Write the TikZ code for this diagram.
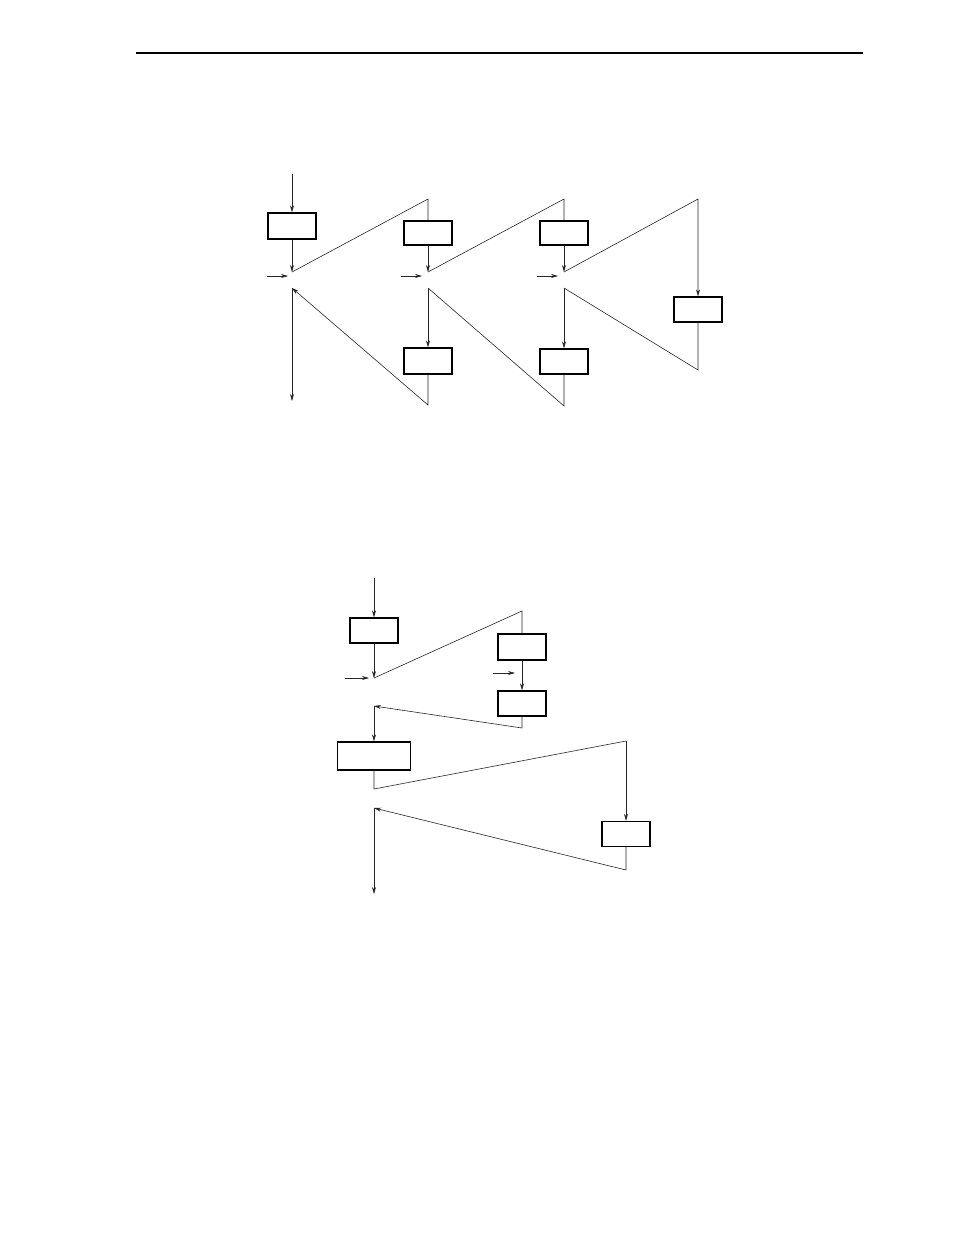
\documentclass[tikz,border=0pt]{standalone}
\usetikzlibrary{arrows.meta}
\begin{document}
\begin{tikzpicture}[x=1pt,y=-1pt,
  box/.style={draw,line width=1.3pt,rectangle,inner sep=0pt,minimum width=48pt,minimum height=25pt},
  conn/.style={line width=0.6pt,draw=black!85},
  arr/.style={conn,-{Stealth[length=7pt,width=4pt]}}]
\useasboundingbox (0,0) rectangle (954,1235);
\draw[line width=1.2pt] (136,53) -- (863,53);
% ---- top diagram ----
\node[box,minimum height=26pt] (b1) at (292,226) {};
\node[box,minimum height=24pt] (b2) at (428,233) {};
\node[box,minimum height=24pt] (b3) at (564,233) {};
\node[box] (b4) at (698,309.5) {};
\node[box] (b5) at (564,361.5) {};
\node[box,minimum height=26pt] (b6) at (428,361) {};
\coordinate (t1s) at (292,174);
\coordinate (j1) at (292,272);
\coordinate (j2) at (428,272);
\coordinate (j3) at (564,272);
\coordinate (p2) at (428,199);
\coordinate (p3) at (564,199);
\coordinate (p4) at (698,199);
\coordinate (q4) at (698,370);
\coordinate (u3) at (564,288);
\coordinate (q3) at (564,406);
\coordinate (u2) at (428,288);
\coordinate (q2) at (428,405);
\coordinate (u1) at (292,288);
\coordinate (e1) at (292,401);
\coordinate (a1s) at (267,276); \coordinate (a1e) at (288,276);
\coordinate (a2s) at (401,276); \coordinate (a2e) at (422,276);
\coordinate (a3s) at (537,276); \coordinate (a3e) at (558,276);
\draw[arr] (t1s) -- (b1.north);
\draw[arr] (b1.south) -- (j1);
\draw[conn] (j1) -- (p2) -- (b2.north);
\draw[arr] (b2.south) -- (j2);
\draw[conn] (j2) -- (p3) -- (b3.north);
\draw[arr] (b3.south) -- (j3);
\draw[arr] (j3) -- (p4) -- (b4.north);
\draw[conn] (b4.south) -- (q4) -- (u3);
\draw[arr] (u3) -- (b5.north);
\draw[conn] (b5.south) -- (q3) -- (u2);
\draw[arr] (u2) -- (b6.north);
\draw[arr] (b6.south) -- (q2) -- (u1);
\draw[arr] (u1) -- (e1);
\draw[arr] (a1s) -- (a1e);
\draw[arr] (a2s) -- (a2e);
\draw[arr] (a3s) -- (a3e);
% ---- bottom diagram ----
\node[box] (bA) at (374,630.5) {};
\node[box,minimum height=26pt] (bB) at (522,647) {};
\node[box] (bC) at (522,703.5) {};
\node[box,minimum width=73pt,minimum height=28pt] (bD) at (374,756) {};
\node[box] (bE) at (626,834) {};
\coordinate (s2) at (374,578);
\coordinate (jA) at (374,678);
\coordinate (pB) at (522,611);
\coordinate (qC) at (522,728);
\coordinate (uA) at (374,706);
\coordinate (qD) at (374,789);
\coordinate (pE) at (626,741);
\coordinate (qE) at (626,870);
\coordinate (uB) at (374,808);
\coordinate (e2) at (374,894);
\coordinate (m1s) at (345,678); \coordinate (m1e) at (369,678);
\coordinate (m2s) at (493,673); \coordinate (m2e) at (515,673);
\draw[arr] (s2) -- (bA.north);
\draw[arr] (bA.south) -- (jA);
\draw[conn] (jA) -- (pB) -- (bB.north);
\draw[arr] (bB.south) -- (bC.north);
\draw[arr] (bC.south) -- (qC) -- (uA);
\draw[arr] (uA) -- (bD.north);
\draw[conn] (bD.south) -- (qD) -- (pE);
\draw[arr] (pE) -- (bE.north);
\draw[arr] (bE.south) -- (qE) -- (uB);
\draw[arr] (uB) -- (e2);
\draw[arr] (m1s) -- (m1e);
\draw[arr] (m2s) -- (m2e);
\end{tikzpicture}
\end{document}
